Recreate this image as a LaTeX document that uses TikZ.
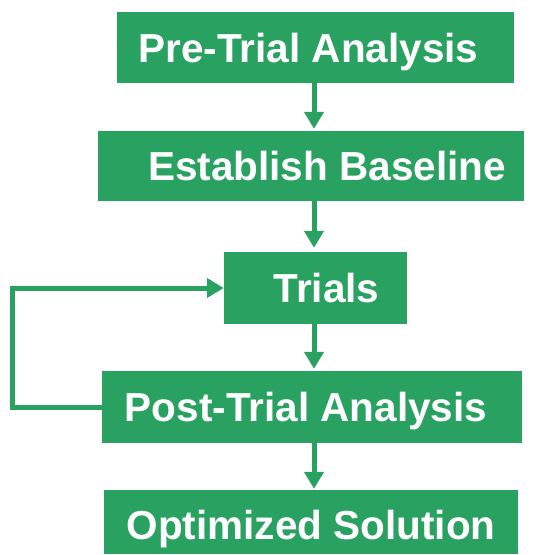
\documentclass[tikz,border=0pt]{standalone}
\usepackage{fontspec}
\setmainfont{Liberation Sans}
\usetikzlibrary{arrows.meta}
\definecolor{flowgreen}{RGB}{41,161,96}
\begin{document}
\begin{tikzpicture}[x=1pt,y=-1pt,
  box/.style={fill=flowgreen, text=white, inner sep=0pt, text height=29pt, text depth=0pt, font=\fontsize{40.5}{44}\selectfont\bfseries},
  flow/.style={draw=flowgreen, line width=5pt, -{Triangle[width=19pt,length=17pt]}}]
\useasboundingbox (0,0) rectangle (542,555);
\node[box, minimum width=397pt, minimum height=71pt] (b1) at (315.5,47.5) {Pre-Trial Analysis\hspace*{14pt}};
\node[box, minimum width=426pt, minimum height=70pt] (b2) at (311,166) {\hspace*{32pt}Establish Baseline};
\node[box, minimum width=183pt, minimum height=72pt] (b3) at (315.5,288) {\hspace*{22pt}Trials};
\node[box, minimum width=420pt, minimum height=72pt] (b4) at (312,407) {Post-Trial Analysis\hspace*{12pt}};
\node[box, minimum width=414pt, minimum height=64pt] (b5) at (311,522) {\raisebox{-3pt}{Optimized Solution}};
\coordinate (axis) at (314,0);
\coordinate (lp) at (12,0);
\draw[flow, shorten >=2pt] (b1.south -| axis) -- (b2.north -| axis);
\draw[flow, shorten >=4pt] (b2.south -| axis) -- (b3.north -| axis);
\draw[flow, shorten >=2pt] (b3.south -| axis) -- (b4.north -| axis);
\draw[flow, shorten >=1pt] (b4.south -| axis) -- (b5.north -| axis);
\draw[flow] (b4.west) -- (b4.west -| lp) |- (b3.west);
\end{tikzpicture}
\end{document}
